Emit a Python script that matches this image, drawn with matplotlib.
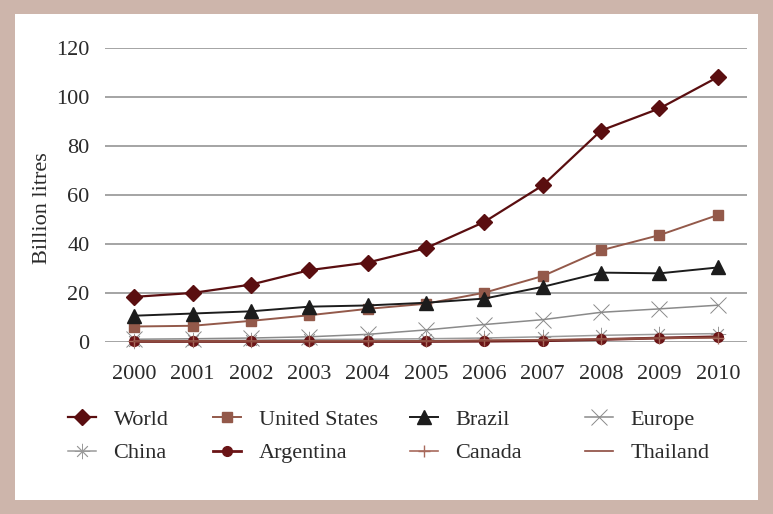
import numpy as np
import matplotlib
matplotlib.use("Agg")
import matplotlib.pyplot as plt
from matplotlib.patches import Rectangle

plt.rcParams['font.family'] = ['Liberation Serif', 'DejaVu Serif']

years = ['2000', '2001', '2002', '2003', '2004', '2005',
         '2006', '2007', '2008', '2009', '2010']

world = [18.3, 19.9, 23.3, 29.2, 32.3, 38.2, 48.9, 63.8, 86.2, 95.2, 108.0]
united_states = [6.2, 6.5, 8.5, 10.8, 13.4, 15.5, 20.0, 26.8, 37.3, 43.5, 51.7]
brazil = [10.6, 11.5, 12.4, 14.3, 14.8, 15.9, 17.6, 22.4, 28.2, 27.9, 30.3]
europe = [1.0, 1.2, 1.5, 2.0, 3.0, 4.8, 7.0, 9.0, 12.0, 13.4, 14.9]
china = [0.4, 0.5, 0.6, 0.9, 1.0, 1.2, 1.5, 2.0, 2.6, 3.0, 3.3]
argentina = [0.1, 0.1, 0.1, 0.1, 0.1, 0.1, 0.2, 0.4, 0.9, 1.5, 2.0]
canada = [0.2, 0.2, 0.2, 0.3, 0.3, 0.3, 0.6, 0.8, 1.0, 1.4, 1.6]
thailand = [0.1, 0.1, 0.1, 0.1, 0.1, 0.3, 0.4, 0.6, 0.9, 1.5, 1.8]

series = [
    ('World', world, dict(color='#5a0e10', marker='D', ms=8.5, lw=1.6)),
    ('United States', united_states, dict(color='#93594a', marker='s', ms=7.5, lw=1.4)),
    ('Brazil', brazil, dict(color='#1c1c1c', marker='^', ms=10.5, lw=1.4)),
    ('Europe', europe, dict(color='#8a8a8a', marker='x', ms=11, mew=0.7, lw=1.1)),
    ('China', china, dict(color='#9a9a9a', marker=(8, 2, 0), ms=11, mew=0.6, lw=1.1)),
    ('Argentina', argentina, dict(color='#6a1416', marker='o', ms=7, lw=2.0)),
    ('Canada', canada, dict(color='#a86a5c', marker='+', ms=8, mew=1.0, lw=1.2)),
    ('Thailand', thailand, dict(color='#8c4a3e', marker='', lw=1.2)),
]

fig = plt.figure(figsize=(7.73, 5.14), dpi=100, facecolor='#cdb5ab')
fig.patches.append(Rectangle((15 / 773, 14 / 514), 743 / 773, 486 / 514,
                             transform=fig.transFigure, facecolor='white',
                             edgecolor='none', zorder=-10))

ax = fig.add_axes([105 / 773, 1 - 341.7 / 514, 642 / 773, 294 / 514])
ax.set_facecolor('none')

x = np.arange(len(years))
lines = []
for name, vals, style in series:
    ln, = ax.plot(x, vals, label=name, clip_on=False, **style)
    lines.append(ln)

ax.set_xlim(-0.5, len(years) - 0.5)
ax.set_ylim(0, 120)
ax.set_yticks(range(0, 121, 20))
ax.set_xticks(x)
ax.set_xticklabels(years)
ax.yaxis.grid(True, color='#8c8c8c', lw=1.1)
ax.set_axisbelow(True)
for s in ax.spines.values():
    s.set_visible(False)
ax.tick_params(length=0, labelsize=16, colors='#2a2a2a')
ax.tick_params(axis='x', pad=17)
ax.tick_params(axis='y', pad=11)
ax.set_ylabel('Billion litres', fontsize=16, color='#2a2a2a')
ax.yaxis.set_label_coords(-0.083, 0.455)

# legend laid out as four columns of two rows
col_x = [68, 213, 410, 585]
for i, cx in enumerate(col_x):
    leg = fig.legend([lines[i], lines[i + 4]], [series[i][0], series[i + 4][0]],
                     loc='upper left', bbox_to_anchor=(cx / 773, 1 - 409 / 514),
                     frameon=False, fontsize=16, handlelength=1.25,
                     handletextpad=0.8, labelspacing=0.6, borderpad=0,
                     borderaxespad=0)
    for t in leg.get_texts():
        t.set_color('#2a2a2a')

fig.savefig('out.png', dpi=100, facecolor=fig.get_facecolor())
